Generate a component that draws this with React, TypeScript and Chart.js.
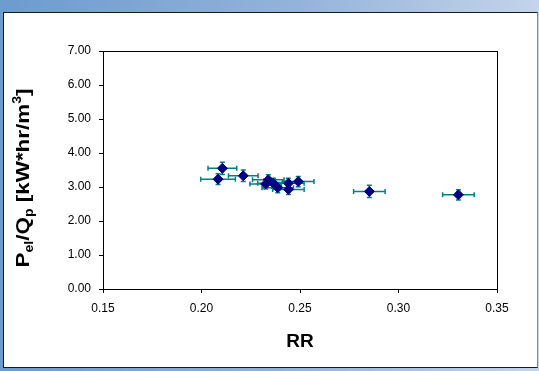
import React, { useEffect, useRef } from "react";
import { Chart, registerables } from "chart.js";

Chart.register(...registerables);

const rrValues = [0.2106, 0.2084, 0.2212, 0.2339, 0.2326, 0.2365, 0.2387, 0.2441, 0.2441, 0.2491, 0.2852, 0.3304];
const pelValues = [3.55, 3.23, 3.33, 3.21, 3.09, 3.11, 2.98, 3.11, 2.93, 3.16, 2.87, 2.77];
const rrErrors = [0.0073, 0.0088, 0.0075, 0.008, 0.008, 0.008, 0.008, 0.008, 0.008, 0.008, 0.008, 0.008];
const pelErrors = [0.18, 0.16, 0.17, 0.15, 0.15, 0.15, 0.15, 0.15, 0.15, 0.15, 0.18, 0.15];
const xTicks = [0.15, 0.2, 0.25, 0.3, 0.35];
const yTicks = [0, 1, 2, 3, 4, 5, 6, 7];
const xTitle = "RR";
const yTitleParts = [
  { t: "P", k: "n" },
  { t: "el", k: "sub" },
  { t: "/Q", k: "n" },
  { t: "p", k: "sub" },
  { t: " [kW*hr/m", k: "n" },
  { t: "3", k: "sup" },
  { t: "]", k: "n" },
];

const FONT = "'Liberation Sans', Arial, sans-serif";

const errorBarPlugin = {
  id: "errorBars",
  beforeDatasetsDraw(chart: any) {
    const { ctx } = chart;
    const xs = chart.scales.x;
    const ys = chart.scales.y;
    ctx.save();
    ctx.strokeStyle = "#008080";
    ctx.lineWidth = 1.5;
    for (let i = 0; i < rrValues.length; i++) {
      const cx = xs.getPixelForValue(rrValues[i]);
      const cy = ys.getPixelForValue(pelValues[i]);
      const x1 = xs.getPixelForValue(rrValues[i] - rrErrors[i]);
      const x2 = xs.getPixelForValue(rrValues[i] + rrErrors[i]);
      const y1 = ys.getPixelForValue(pelValues[i] - pelErrors[i]);
      const y2 = ys.getPixelForValue(pelValues[i] + pelErrors[i]);
      ctx.beginPath();
      ctx.moveTo(x1, cy);
      ctx.lineTo(x2, cy);
      ctx.moveTo(x1, cy - 2.5);
      ctx.lineTo(x1, cy + 2.5);
      ctx.moveTo(x2, cy - 2.5);
      ctx.lineTo(x2, cy + 2.5);
      ctx.moveTo(cx, y1);
      ctx.lineTo(cx, y2);
      ctx.moveTo(cx - 2.5, y1);
      ctx.lineTo(cx + 2.5, y1);
      ctx.moveTo(cx - 2.5, y2);
      ctx.lineTo(cx + 2.5, y2);
      ctx.stroke();
    }
    ctx.restore();
  },
};

const frameAndTitlePlugin = {
  id: "frameAndTitle",
  afterDraw(chart: any) {
    const { ctx, chartArea } = chart;
    ctx.save();
    ctx.strokeStyle = "#000";
    ctx.lineWidth = 1;
    ctx.strokeRect(
      Math.round(chartArea.left) + 0.5,
      Math.round(chartArea.top) + 0.5,
      Math.round(chartArea.right - chartArea.left),
      Math.round(chartArea.bottom - chartArea.top)
    );
    // rotated y title with sub/superscripts
    const size = 19;
    const small = 12;
    const fontN = `bold ${size}px ${FONT}`;
    const fontS = `bold ${small}px ${FONT}`;
    let total = 0;
    const widths: number[] = [];
    for (const p of yTitleParts) {
      ctx.font = p.k === "n" ? fontN : fontS;
      const w = ctx.measureText(p.t).width;
      widths.push(w);
      total += w;
    }
    ctx.translate(29, 178);
    ctx.rotate(-Math.PI / 2);
    ctx.scale(1.18, 1);
    ctx.fillStyle = "#000";
    ctx.textBaseline = "alphabetic";
    ctx.textAlign = "left";
    let pos = -total / 2;
    yTitleParts.forEach((p, i) => {
      ctx.font = p.k === "n" ? fontN : fontS;
      const dy = p.k === "sub" ? 4 : p.k === "sup" ? -8 : 0;
      ctx.fillText(p.t, pos, dy);
      pos += widths[i];
    });
    ctx.restore();
  },
};

export default function App() {
  const canvasRef = useRef<HTMLCanvasElement | null>(null);

  useEffect(() => {
    if (!canvasRef.current) return;
    const chart = new Chart(canvasRef.current, {
      type: "scatter",
      data: {
        datasets: [
          {
            label: "data",
            data: rrValues.map((x, i) => ({ x, y: pelValues[i] })),
            pointStyle: "rectRot",
            pointRadius: 5,
            pointHoverRadius: 5,
            backgroundColor: "#000080",
            borderColor: "#000080",
            borderWidth: 1,
          },
        ],
      },
      options: {
        responsive: false,
        animation: false,
        devicePixelRatio: 1,
        layout: { padding: { left: 0, top: 51, right: 42, bottom: 0 } },
        plugins: {
          legend: { display: false },
          tooltip: { enabled: false },
          title: { display: false },
        },
        scales: {
          x: {
            type: "linear",
            min: 0.15,
            max: 0.35,
            afterFit(scale: any) {
              scale.height = 82;
            },
            afterBuildTicks(scale: any) {
              scale.ticks = xTicks.map((v) => ({ value: v }));
            },
            ticks: {
              color: "#000",
              font: { family: FONT, size: 12 },
              padding: 8,
              maxRotation: 0,
              callback: (v: any) => Number(v).toFixed(2),
            },
            grid: {
              drawOnChartArea: false,
              drawTicks: true,
              tickLength: 4,
              tickColor: "#000",
            },
            border: { display: true, color: "#000", width: 1 },
            title: {
              display: true,
              text: xTitle,
              color: "#000",
              font: { family: FONT, size: 19, weight: "bold" },
              padding: { top: 4, bottom: 18 },
            },
          },
          y: {
            type: "linear",
            min: 0,
            max: 7,
            afterFit(scale: any) {
              scale.width = 103;
            },
            afterBuildTicks(scale: any) {
              scale.ticks = yTicks.map((v) => ({ value: v }));
            },
            ticks: {
              color: "#000",
              font: { family: FONT, size: 12 },
              padding: 8,
              callback: (v: any) => Number(v).toFixed(2),
            },
            grid: {
              drawOnChartArea: false,
              drawTicks: true,
              tickLength: 4,
              tickColor: "#000",
            },
            border: { display: true, color: "#000", width: 1 },
          },
        },
      },
      plugins: [errorBarPlugin, frameAndTitlePlugin],
    });
    return () => chart.destroy();
  }, []);

  return (
    <div
      style={{
        position: "fixed",
        left: 0,
        top: 0,
        width: 539,
        height: 371,
        overflow: "hidden",
        background: "linear-gradient(to right, #6c9bcf 0%, #94b3da 55%, #c3d4eb 100%)",
      }}
    >
      <div
        style={{
          position: "absolute",
          left: 3,
          top: 12,
          width: 535,
          height: 356,
          boxSizing: "border-box",
          background: "#fff",
          borderTop: "1px solid #1a1a1a",
          borderLeft: "1px solid #1a1a1a",
          borderBottom: "1px solid #1a1a1a",
          borderRight: "1px solid #8a8a8a",
        }}
      />
      <canvas
        ref={canvasRef}
        width={539}
        height={371}
        style={{ position: "absolute", left: 0, top: 0, width: 539, height: 371 }}
      />
    </div>
  );
}
